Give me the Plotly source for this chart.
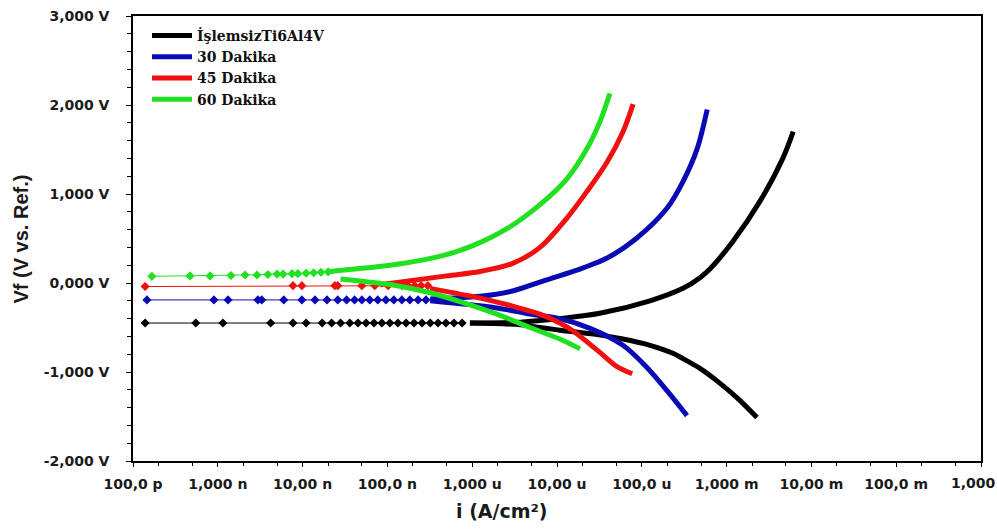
import plotly.graph_objects as go

# ---------------- data ----------------
series_names = ["İşlemsizTi6Al4V", "30 Dakika", "45 Dakika", "60 Dakika"]
series_colors = ["#000000", "#0a0ab4", "#f01010", "#20e020"]

# İşlemsiz Ti6Al4V
black_cat_i = [9.4e-7, 3.7e-6, 6.3e-6, 1.08e-5, 3.0e-5, 6.0e-5, 1.25e-4, 2.33e-4, 3.06e-4, 4.85e-4, 7.7e-4, 1.33e-3, 2.28e-3]
black_cat_v = [-0.45, -0.47, -0.50, -0.53, -0.58, -0.63, -0.70, -0.79, -0.85, -0.96, -1.10, -1.29, -1.51]
black_an_i = [9.4e-7, 3.7e-6, 1.08e-5, 3.2e-5, 1.25e-4, 3.06e-4, 4.85e-4, 6.4e-4, 1.19e-3, 2.48e-3, 4.6e-3, 6.1e-3]
black_an_v = [-0.45, -0.44, -0.40, -0.34, -0.20, -0.06, 0.06, 0.16, 0.47, 0.92, 1.40, 1.70]
black_mk_i = [1.39e-10, 5.5e-10, 1.15e-9, 4.2e-9, 7.7e-9, 1.1e-8, 1.7e-8, 2.2e-8, 2.8e-8, 3.6e-8, 4.5e-8,
              5.6e-8, 6.95e-8, 8.6e-8, 1.07e-7, 1.33e-7, 1.66e-7, 2.06e-7, 2.56e-7, 3.2e-7, 3.95e-7,
              4.9e-7, 6.1e-7, 7.6e-7]
black_mk_v = [-0.45, -0.45, -0.45, -0.45, -0.45, -0.45, -0.45, -0.45, -0.45, -0.45, -0.45,
              -0.45, -0.45, -0.45, -0.45, -0.45, -0.45, -0.45, -0.45, -0.45, -0.45,
              -0.45, -0.45, -0.45]

# 30 Dakika
blue_cat_i = [3.2e-7, 1.96e-6, 4.8e-6, 1.08e-5, 2.45e-5, 6.0e-5, 1.15e-4, 1.98e-4, 3.41e-4]
blue_cat_v = [-0.20, -0.28, -0.35, -0.40, -0.51, -0.70, -0.95, -1.21, -1.49]
blue_an_i = [3.2e-7, 1.24e-6, 3.0e-6, 6.3e-6, 1.55e-5, 2.03e-5, 3.9e-5, 8.6e-5, 1.98e-4, 3.06e-4, 4.5e-4, 5.9e-4]
blue_an_v = [-0.18, -0.15, -0.09, 0.01, 0.13, 0.17, 0.28, 0.50, 0.84, 1.14, 1.51, 1.95]
blue_mk_i = [1.46e-10, 9.0e-10, 1.32e-9, 2.97e-9, 3.3e-9, 6.0e-9, 9.8e-9, 1.4e-8, 1.94e-8, 2.6e-8,
             3.3e-8, 4.1e-8, 5.0e-8, 6.2e-8, 7.7e-8, 9.6e-8, 1.19e-7, 1.48e-7, 1.84e-7, 2.3e-7, 2.85e-7]
blue_mk_v = [-0.19, -0.19, -0.19, -0.19, -0.19, -0.19, -0.19, -0.19, -0.19, -0.19,
             -0.19, -0.19, -0.19, -0.19, -0.19, -0.19, -0.19, -0.19, -0.19, -0.19, -0.19]

# 45 Dakika
red_cat_i = [3.2e-7, 1.24e-6, 3.0e-6, 6.3e-6, 1.08e-5, 1.55e-5, 3.2e-5, 5.1e-5, 7.7e-5]
red_cat_v = [-0.06, -0.17, -0.26, -0.35, -0.45, -0.54, -0.78, -0.94, -1.02]
red_an_i = [8.2e-8, 5.0e-7, 1.24e-6, 3.0e-6, 6.3e-6, 1.31e-5, 2.26e-5, 3.9e-5, 6.0e-5, 7.9e-5]
red_an_v = [-0.02, 0.08, 0.13, 0.22, 0.40, 0.73, 1.03, 1.36, 1.70, 2.01]
red_mk_i = [1.39e-10, 7.7e-9, 9.8e-9, 2.4e-8, 2.6e-8, 5.0e-8, 7.1e-8, 1.02e-7, 1.49e-7, 1.75e-7,
            2.1e-7, 2.5e-7, 3.0e-7]
red_mk_v = [-0.04, -0.03, -0.03, -0.03, -0.03, -0.03, -0.03, -0.03, -0.03, -0.03,
            -0.03, -0.03, -0.03]

# 60 Dakika
green_cat_i = [2.8e-8, 1.3e-7, 3.2e-7, 7.8e-7, 1.96e-6, 4.8e-6, 1.08e-5, 1.87e-5]
green_cat_v = [0.045, -0.03, -0.11, -0.22, -0.35, -0.50, -0.63, -0.74]
green_an_i = [2.1e-8, 1.3e-7, 4.6e-7, 1.02e-6, 2.57e-6, 6.3e-6, 1.31e-5, 2.26e-5, 3.2e-5, 4.2e-5]
green_an_v = [0.13, 0.21, 0.31, 0.42, 0.61, 0.88, 1.17, 1.51, 1.81, 2.13]
green_mk_i = [1.67e-10, 4.7e-10, 8.1e-10, 1.43e-9, 2.1e-9, 2.9e-9, 3.9e-9, 5.0e-9, 5.9e-9, 7.5e-9,
              8.8e-9, 1.1e-8, 1.35e-8, 1.65e-8, 2.0e-8]
green_mk_v = [0.075, 0.08, 0.08, 0.085, 0.09, 0.09, 0.095, 0.10, 0.10, 0.105,
              0.105, 0.11, 0.115, 0.12, 0.125]

x_tickvals = [1e-10, 1e-9, 1e-8, 1e-7, 1e-6, 1e-5, 1e-4, 1e-3, 1e-2, 1e-1, 1e0]
x_ticktext = ["100,0 p", "1,000 n", "10,00 n", "100,0 n", "1,000 u", "10,00 u",
              "100,0 u", "1,000 m", "10,00 m", "100,0 m", "1,000"]
y_tickvals = [-2, -1, 0, 1, 2, 3]
y_ticktext = ["-2,000 V", "-1,000 V", "0,000 V", "1,000 V", "2,000 V", "3,000 V"]

# ---------------- figure ----------------
series = [
    (black_cat_i, black_cat_v, black_an_i, black_an_v, black_mk_i, black_mk_v),
    (blue_cat_i, blue_cat_v, blue_an_i, blue_an_v, blue_mk_i, blue_mk_v),
    (red_cat_i, red_cat_v, red_an_i, red_an_v, red_mk_i, red_mk_v),
    (green_cat_i, green_cat_v, green_an_i, green_an_v, green_mk_i, green_mk_v),
]

fig = go.Figure()
for k, (ci, cv, ai, av, mi, mv) in enumerate(series):
    col = series_colors[k]
    fig.add_trace(go.Scatter(
        x=mi, y=mv, mode="lines+markers", showlegend=False, hoverinfo="skip",
        line=dict(color=col, width=1),
        marker=dict(symbol="diamond", size=7, color=col),
    ))
    fig.add_trace(go.Scatter(
        x=ci, y=cv, mode="lines", showlegend=False,
        line=dict(color=col, width=5, shape="spline", smoothing=0.9),
    ))
    fig.add_trace(go.Scatter(
        x=ai, y=av, mode="lines", name=series_names[k],
        line=dict(color=col, width=5, shape="spline", smoothing=0.9),
    ))

L, R, T, B = 133, 16, 8, 69
W, H = 997, 530
pw, ph = W - L - R, H - T - B

tick_font = dict(family="DejaVu Sans", size=14, color="#1a1a1a", weight="bold")

# the last x label sits shifted inward in the reference, so it is drawn separately
x_ticktext_axis = x_ticktext[:-1] + [""]

fig.update_layout(
    width=W, height=H,
    margin=dict(l=L, r=R, t=T, b=B),
    paper_bgcolor="white", plot_bgcolor="white",
    showlegend=True,
    legend=dict(
        x=(147 - L) / pw, y=(H - B - 12) / ph, xanchor="left", yanchor="top",
        bgcolor="rgba(0,0,0,0)", borderwidth=0,
        font=dict(family="DejaVu Serif", size=14, color="#111111", weight="bold"),
        tracegroupgap=0, itemwidth=40,
    ),
    xaxis=dict(
        type="log", range=[-10, 0],
        tickmode="array", tickvals=x_tickvals, ticktext=x_ticktext_axis,
        ticks="outside", ticklen=4, tickwidth=1, tickcolor="black",
        showgrid=False, zeroline=False,
        showline=True, linecolor="black", linewidth=1.5, mirror=True,
        tickfont=tick_font,
        ticklabelstandoff=5,
        minor=dict(ticks="outside", ticklen=3, tickcolor="black", showgrid=False),
    ),
    yaxis=dict(
        range=[-2, 3],
        tickmode="array", tickvals=y_tickvals, ticktext=y_ticktext,
        ticks="outside", ticklen=5, tickwidth=1, tickcolor="black",
        showgrid=False, zeroline=False,
        showline=True, linecolor="black", linewidth=1.5, mirror=True,
        tickfont=tick_font,
        ticklabelstandoff=14,
        minor=dict(dtick=0.2, ticks="outside", ticklen=4, tickcolor="black", showgrid=False),
    ),
    annotations=[
        dict(text=x_ticktext[-1], xref="paper", yref="paper",
             x=(973 - L) / pw, y=(H - B - 483) / ph, xanchor="center", yanchor="middle",
             showarrow=False, font=tick_font),
        dict(text="i (A/cm²)", xref="paper", yref="paper",
             x=(502 - L) / pw, y=(H - B - 512) / ph, xanchor="center", yanchor="middle",
             showarrow=False,
             font=dict(family="DejaVu Sans", size=19, color="#1a1a1a", weight="bold")),
        dict(text="Vf (V vs. Ref.)", xref="paper", yref="paper",
             x=(20 - L) / pw, y=0.5, xanchor="center", yanchor="middle",
             textangle=-90, showarrow=False,
             font=dict(family="Liberation Sans", size=20, color="#1a1a1a", weight="bold")),
    ],
)

fig.write_html("out.html", config={"displayModeBar": False},
               post_script="document.body.style.margin='0px';document.body.style.overflow='hidden';")
